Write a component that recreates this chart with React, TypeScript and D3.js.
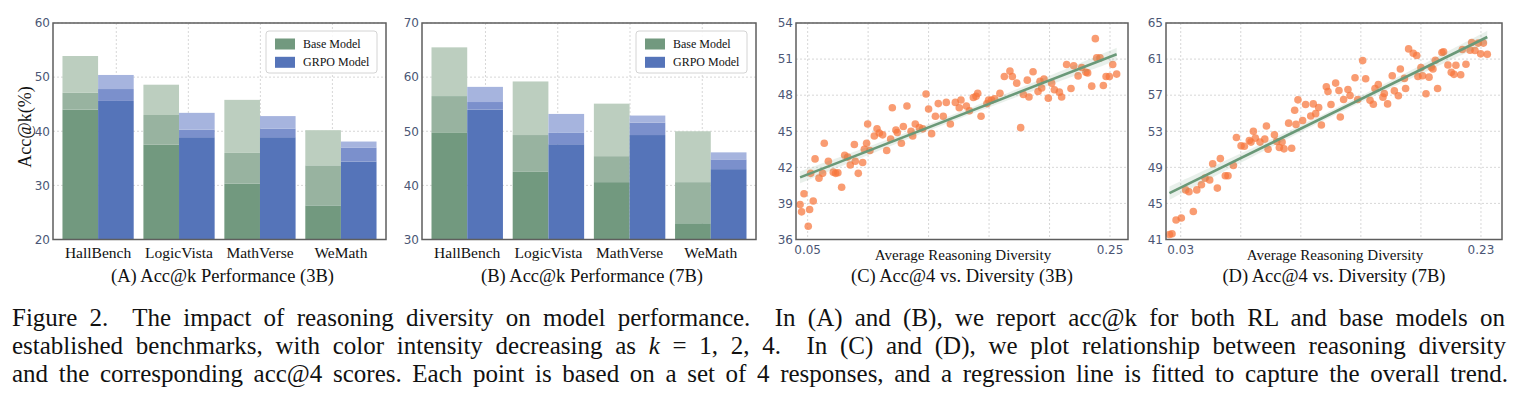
import { useEffect, useRef } from 'react';
import * as d3 from 'd3';

// Benchmarks and acc@k values (k = 1, 2, 4) for each model size
const categories = ['HallBench', 'LogicVista', 'MathVerse', 'WeMath'];

const base3B_k1 = [44.0, 37.5, 30.3, 26.3];
const base3B_k2 = [47.1, 43.0, 36.0, 33.7];
const base3B_k4 = [53.9, 48.6, 45.8, 40.2];
const grpo3B_k1 = [45.6, 38.9, 38.9, 34.4];
const grpo3B_k2 = [47.8, 40.3, 40.5, 37.0];
const grpo3B_k4 = [50.4, 43.4, 42.8, 38.1];

const base7B_k1 = [49.8, 42.5, 40.6, 33.0];
const base7B_k2 = [56.5, 49.3, 45.4, 40.6];
const base7B_k4 = [65.5, 59.2, 55.1, 50.0];
const grpo7B_k1 = [54.0, 47.6, 49.3, 43.0];
const grpo7B_k2 = [55.4, 49.7, 51.6, 44.8];
const grpo7B_k4 = [58.2, 53.2, 52.9, 46.1];

const ticks3B = [20, 30, 40, 50, 60];
const ticks7B = [30, 40, 50, 60, 70];

// Average reasoning diversity vs acc@4, one point per sample set
const diversity3B = [
  0.045, 0.046, 0.0476, 0.0504, 0.0513, 0.052, 0.0537, 0.0549, 0.0575, 0.0599,
  0.061, 0.0637, 0.067, 0.0685, 0.07, 0.0725, 0.0745, 0.0765, 0.0782, 0.0809,
  0.0815, 0.0835, 0.0864, 0.0875, 0.089, 0.0897, 0.0912, 0.0941, 0.0959, 0.0974,
  0.0996, 0.1023, 0.1049, 0.106, 0.1084, 0.1093, 0.112, 0.1133, 0.1157, 0.1184,
  0.1195, 0.1212, 0.1239, 0.1261, 0.1283, 0.13, 0.132, 0.1345, 0.1364, 0.1397,
  0.1417, 0.1444, 0.1477, 0.1503, 0.1514, 0.155, 0.157, 0.1596, 0.1614, 0.1625,
  0.1647, 0.1686, 0.1697, 0.1717, 0.1737, 0.1772, 0.1801, 0.1838, 0.1854, 0.1883,
  0.1909, 0.1927, 0.1953, 0.1964, 0.1991, 0.2024, 0.2037, 0.2048, 0.2063, 0.2092,
  0.2114, 0.2132, 0.2165, 0.218, 0.2213, 0.2242, 0.226, 0.2289, 0.2313, 0.2341,
  0.2352, 0.2379, 0.2403, 0.2412, 0.2434, 0.2456, 0.2474, 0.2496, 0.2518, 0.2544,
];
const acc3B = [
  38.9, 38.3, 39.8, 37.1, 38.5, 41.5, 39.2, 42.7, 41.1, 41.5,
  44.0, 42.5, 41.6, 41.5, 41.55, 40.35, 43.0, 42.85, 42.2, 43.9,
  42.5, 41.5, 42.4, 43.5, 44.0, 45.6, 43.4, 44.6, 45.2, 44.85,
  44.7, 43.4, 44.35, 46.95, 45.1, 44.9, 44.0, 45.4, 47.1, 45.0,
  44.6, 45.6, 45.3, 45.2, 48.1, 46.85, 44.8, 46.25, 47.3, 46.25,
  47.4, 45.6, 47.4, 46.95, 47.6, 47.1, 46.7, 47.8, 47.9, 48.15,
  46.25, 47.3, 47.6, 47.6, 47.7, 48.15, 49.55, 50.0, 49.55, 49.0,
  45.3, 48.05, 49.25, 47.85, 49.95, 48.3, 49.15, 48.6, 49.35, 47.75,
  49.0, 48.45, 48.25, 47.85, 50.55, 48.55, 50.45, 49.6, 50.3, 49.9,
  49.85, 48.75, 52.7, 51.1, 51.1, 48.8, 49.55, 49.55, 50.55, 49.75,
];

const diversity7B = [
  0.0225, 0.0242, 0.0269, 0.0304, 0.0333, 0.0355, 0.0384, 0.0407, 0.0438, 0.0462,
  0.0493, 0.0513, 0.0544, 0.0564, 0.0597, 0.0615, 0.0651, 0.0671, 0.0702, 0.0724,
  0.0757, 0.0768, 0.0784, 0.0797, 0.0828, 0.086, 0.0871, 0.0882, 0.0924, 0.0939,
  0.0957, 0.0975, 0.0988, 0.1019, 0.1039, 0.1059, 0.1068, 0.1081, 0.1112, 0.1132,
  0.1166, 0.1183, 0.1199, 0.1219, 0.1237, 0.127, 0.1281, 0.1301, 0.1332, 0.1354,
  0.1363, 0.1385, 0.1414, 0.1428, 0.1461, 0.1479, 0.1512, 0.1532, 0.1561, 0.1583,
  0.1594, 0.1616, 0.1647, 0.1656, 0.1678, 0.1709, 0.1723, 0.175, 0.1763, 0.179,
  0.1798, 0.1818, 0.1849, 0.1872, 0.188, 0.19, 0.1911, 0.1934, 0.1954, 0.1969,
  0.198, 0.1996, 0.2011, 0.204, 0.2051, 0.208, 0.2102, 0.212, 0.2133, 0.2165,
  0.2176, 0.22, 0.2227, 0.2238, 0.226, 0.2282, 0.2298, 0.2316, 0.2342,
];
const acc7B = [
  41.56, 41.63, 43.16, 43.38, 46.5, 46.3, 44.1, 46.5, 47.07, 47.8,
  47.6, 49.4, 46.7, 49.97, 48.07, 48.07, 49.2, 52.3, 51.38, 51.34,
  51.98, 51.8, 53.0, 52.24, 51.8, 52.13, 53.58, 51.0, 52.6, 51.86,
  51.2, 51.8, 51.05, 53.9, 51.12, 55.33, 53.76, 56.48, 54.2, 55.96,
  54.69, 56.03, 54.95, 55.62, 53.69, 57.93, 57.41, 55.96, 58.34, 57.52,
  54.58, 56.52, 57.63, 56.96, 58.93, 56.52, 60.83, 58.82, 56.44, 56.0,
  57.74, 58.19, 56.78, 57.19, 56.03, 59.16, 57.48, 56.93, 59.9, 58.86,
  57.74, 62.13, 61.65, 61.39, 59.08, 60.05, 59.16, 57.15, 59.0, 60.09,
  59.9, 60.87, 57.74, 61.73, 61.8, 60.35, 59.53, 59.31, 60.31, 59.27,
  62.06, 60.42, 61.99, 62.84, 61.95, 62.77, 61.58, 62.77, 61.54,
];

const captionLines = [
  'Figure 2.  The impact of reasoning diversity on model performance.  In (A) and (B), we report acc@k for both RL and base models on',
  'established benchmarks, with color intensity decreasing as |k| = 1, 2, 4.  In (C) and (D), we plot relationship between reasoning diversity',
  'and the corresponding acc@4 scores. Each point is based on a set of 4 responses, and a regression line is fitted to capture the overall trend.',
];
const captionEnds = [1505, 1506, 1508];

const W = 1518;
const H = 412;
const plotTop = 23;
const plotBottom = 239.5;
const serif = '"Liberation Serif", "Times New Roman", serif';
const sans = '"DejaVu Sans", sans-serif';
const tickColor = '#4b5675';
const frameColor = '#5e5e5e';
const gridColor = '#cdcdcd';
const baseColors = ['#72997f', '#98b3a0', '#bccebf']; // k = 1, 2, 4
const grpoColors = ['#5574b9', '#7b90cc', '#a6b4de'];
const lineColor = '#6a9978';
const dotColor = '#f7763c';

const barWidth = 0.44;
const barXDomain: [number, number] = [-0.557, 3.557];
const barGridX = [0.225, 1.115, 2.005, 2.895];

type G = d3.Selection<SVGGElement, unknown, null, undefined>;

function grid(g: G, xs: number[], ys: number[], left: number, right: number) {
  const grp = g.append('g');
  ys.forEach(v =>
    grp.append('line')
      .attr('x1', left).attr('x2', right).attr('y1', v).attr('y2', v)
      .attr('stroke', gridColor).attr('stroke-width', 0.8).attr('stroke-dasharray', '2,2'));
  xs.forEach(v =>
    grp.append('line')
      .attr('x1', v).attr('x2', v).attr('y1', plotTop).attr('y2', plotBottom)
      .attr('stroke', gridColor).attr('stroke-width', 0.8).attr('stroke-dasharray', '2,2'));
}

function frame(g: G, left: number, right: number) {
  g.append('rect')
    .attr('x', left).attr('y', plotTop)
    .attr('width', right - left).attr('height', plotBottom - plotTop)
    .attr('fill', 'none').attr('stroke', frameColor).attr('stroke-width', 1.5);
}

function yTickLabels(g: G, y: d3.ScaleLinear<number, number>, ticks: number[], left: number) {
  g.append('g').selectAll('text').data(ticks).join('text')
    .attr('x', left - 3).attr('y', d => y(d)).attr('dy', '0.36em')
    .attr('text-anchor', 'end')
    .style('font-family', sans).style('font-size', '12px').attr('fill', tickColor)
    .text(d => d);
}

function subtitle(g: G, text: string, cx: number) {
  g.append('text')
    .attr('x', cx).attr('y', 282).attr('text-anchor', 'middle')
    .style('font-family', serif).style('font-size', '18.5px').attr('fill', '#111')
    .text(text);
}

interface BarPanel {
  left: number;
  right: number;
  ticks: number[];
  base: number[][];
  grpo: number[][];
  title: string;
}

function drawBarPanel(g: G, p: BarPanel) {
  const x = d3.scaleLinear().domain(barXDomain).range([p.left, p.right]);
  const y = d3.scaleLinear().domain([p.ticks[0], p.ticks[p.ticks.length - 1]]).range([plotBottom, plotTop]);

  grid(g, barGridX.map(x), p.ticks.map(y), p.left, p.right);

  // stacked segments: k=1 solid, k=2 and k=4 as lighter extensions on top
  const segs: { x0: number; lo: number; hi: number; color: string }[] = [];
  categories.forEach((_, i) => {
    [p.base, p.grpo].forEach((series, s) => {
      const x0 = s === 0 ? i - barWidth : i;
      const colors = s === 0 ? baseColors : grpoColors;
      let prev = p.ticks[0];
      series.forEach((vals, k) => {
        segs.push({ x0, lo: prev, hi: vals[i], color: colors[k] });
        prev = vals[i];
      });
    });
  });
  g.append('g').selectAll('rect').data(segs).join('rect')
    .attr('x', d => x(d.x0))
    .attr('width', x(barWidth) - x(0))
    .attr('y', d => y(d.hi))
    .attr('height', d => y(d.lo) - y(d.hi))
    .attr('fill', d => d.color);

  frame(g, p.left, p.right);
  yTickLabels(g, y, p.ticks, p.left);

  g.append('g').selectAll('text').data(categories).join('text')
    .attr('x', (_, i) => x(i)).attr('y', 258).attr('text-anchor', 'middle')
    .style('font-family', serif).style('font-size', '15.5px').attr('fill', '#111')
    .text(d => d);

  // legend
  const lg = g.append('g').attr('transform', `translate(${p.right - 120},31)`);
  lg.append('rect')
    .attr('width', 111).attr('height', 42).attr('rx', 3)
    .attr('fill', 'rgba(255,255,255,0.85)').attr('stroke', '#d4d4d4').attr('stroke-width', 1);
  [['Base Model', baseColors[0]], ['GRPO Model', grpoColors[0]]].forEach(([label, c], i) => {
    lg.append('rect').attr('x', 9).attr('y', 7.5 + i * 18.3).attr('width', 20).attr('height', 11).attr('fill', c);
    lg.append('text')
      .attr('x', 37).attr('y', 16.7 + i * 18.3)
      .style('font-family', serif).style('font-size', '12px').attr('fill', '#111')
      .text(label);
  });

  subtitle(g, p.title, (p.left + p.right) / 2 + 3);
}

interface ScatterPanel {
  left: number;
  right: number;
  xDomain: [number, number];
  yTicks: number[];
  xGrid: number[];
  xLabels: number[];
  xs: number[];
  ys: number[];
  title: string;
}

function drawScatterPanel(g: G, p: ScatterPanel) {
  const x = d3.scaleLinear().domain(p.xDomain).range([p.left, p.right]);
  const y = d3.scaleLinear().domain([p.yTicks[0], p.yTicks[p.yTicks.length - 1]]).range([plotBottom, plotTop]);

  grid(g, p.xGrid.map(x), p.yTicks.map(y), p.left, p.right);

  g.append('g').selectAll('circle').data(p.xs).join('circle')
    .attr('cx', d => x(d)).attr('cy', (_, i) => y(p.ys[i])).attr('r', 3.8)
    .attr('fill', dotColor).attr('fill-opacity', 0.72);

  // least-squares fit with a 95% confidence band
  const n = p.xs.length;
  const mx = d3.mean(p.xs)!;
  const my = d3.mean(p.ys)!;
  const sxx = d3.sum(p.xs, v => (v - mx) ** 2);
  const sxy = d3.sum(p.xs, (v, i) => (v - mx) * (p.ys[i] - my));
  const slope = sxy / sxx;
  const icpt = my - slope * mx;
  const s = Math.sqrt(d3.sum(p.xs, (v, i) => (p.ys[i] - (icpt + slope * v)) ** 2) / (n - 2));
  const [x0, x1] = d3.extent(p.xs) as [number, number];
  const steps = d3.range(0, 101).map(t => x0 + (x1 - x0) * t / 100);
  const half = (d: number) => 1.984 * s * Math.sqrt(1 / n + (d - mx) ** 2 / sxx);
  const band = d3.area<number>()
    .x(d => x(d))
    .y0(d => y(icpt + slope * d - half(d)))
    .y1(d => y(icpt + slope * d + half(d)));
  g.append('path').attr('d', band(steps)).attr('fill', lineColor).attr('fill-opacity', 0.15);
  g.append('line')
    .attr('x1', x(x0)).attr('y1', y(icpt + slope * x0))
    .attr('x2', x(x1)).attr('y2', y(icpt + slope * x1))
    .attr('stroke', lineColor).attr('stroke-width', 2.6);

  frame(g, p.left, p.right);
  yTickLabels(g, y, p.yTicks, p.left);

  g.append('g').selectAll('text').data(p.xLabels).join('text')
    .attr('x', d => x(d)).attr('y', 254).attr('text-anchor', 'middle')
    .style('font-family', sans).style('font-size', '12px').attr('fill', tickColor)
    .text(d => d.toFixed(2));

  g.append('text')
    .attr('x', (p.left + p.right) / 2 + 1).attr('y', 260).attr('text-anchor', 'middle')
    .style('font-family', serif).style('font-size', '15px').attr('fill', '#111')
    .text('Average Reasoning Diversity');

  subtitle(g, p.title, (p.left + p.right) / 2);
}

const App = () => {
  const svgRef = useRef<SVGSVGElement>(null);

  useEffect(() => {
    document.body.style.margin = '0';
    const root = d3.select(svgRef.current);
    root.selectAll('*').remove();
    const svg = root.append('g') as unknown as G;

    drawBarPanel(svg, {
      left: 53, right: 386, ticks: ticks3B,
      base: [base3B_k1, base3B_k2, base3B_k4],
      grpo: [grpo3B_k1, grpo3B_k2, grpo3B_k4],
      title: '(A) Acc@k Performance (3B)',
    });
    drawBarPanel(svg, {
      left: 422, right: 756, ticks: ticks7B,
      base: [base7B_k1, base7B_k2, base7B_k4],
      grpo: [grpo7B_k1, grpo7B_k2, grpo7B_k4],
      title: '(B) Acc@k Performance (7B)',
    });

    svg.append('text')
      .attr('transform', 'translate(31,127) rotate(-90)')
      .attr('text-anchor', 'middle')
      .style('font-family', serif).style('font-size', '18px').attr('fill', '#111')
      .text('Acc@k(%)');

    drawScatterPanel(svg, {
      left: 796, right: 1128, xDomain: [0.0423, 0.2619],
      yTicks: d3.range(36, 55, 3),
      xGrid: [0.05, 0.09, 0.13, 0.17, 0.21, 0.25],
      xLabels: [0.05, 0.25],
      xs: diversity3B, ys: acc3B,
      title: '(C) Acc@4 vs. Diversity (3B)',
    });
    drawScatterPanel(svg, {
      left: 1166, right: 1502, xDomain: [0.0202, 0.244],
      yTicks: d3.range(41, 66, 4),
      xGrid: [0.03, 0.07, 0.11, 0.15, 0.19, 0.23],
      xLabels: [0.03, 0.23],
      xs: diversity7B, ys: acc7B,
      title: '(D) Acc@4 vs. Diversity (7B)',
    });

    // caption, justified by widening the word gaps; |k| marks the italic variable
    captionLines.forEach((line, li) => {
      const t = svg.append('text')
        .attr('x', 12).attr('y', 325.5 + li * 28)
        .style('font-family', serif).style('font-size', '25px').attr('fill', '#111')
        .style('white-space', 'pre');
      line.split('|').forEach((part, pi) => {
        t.append('tspan').style('font-style', pi % 2 === 1 ? 'italic' : 'normal').text(part);
      });
      const node = t.node() as SVGTextElement;
      const natural = node.getComputedTextLength();
      const target = captionEnds[li] - 12;
      const gaps = (line.match(/ /g) || []).length;
      if (natural < target && gaps > 0) {
        t.style('word-spacing', `${(target - natural) / gaps}px`);
      } else {
        t.attr('textLength', target).attr('lengthAdjust', 'spacingAndGlyphs');
      }
    });
  }, []);

  return (
    <svg ref={svgRef} width={W} height={H} style={{ display: 'block', background: '#fff' }}></svg>
  );
};

export default App;
